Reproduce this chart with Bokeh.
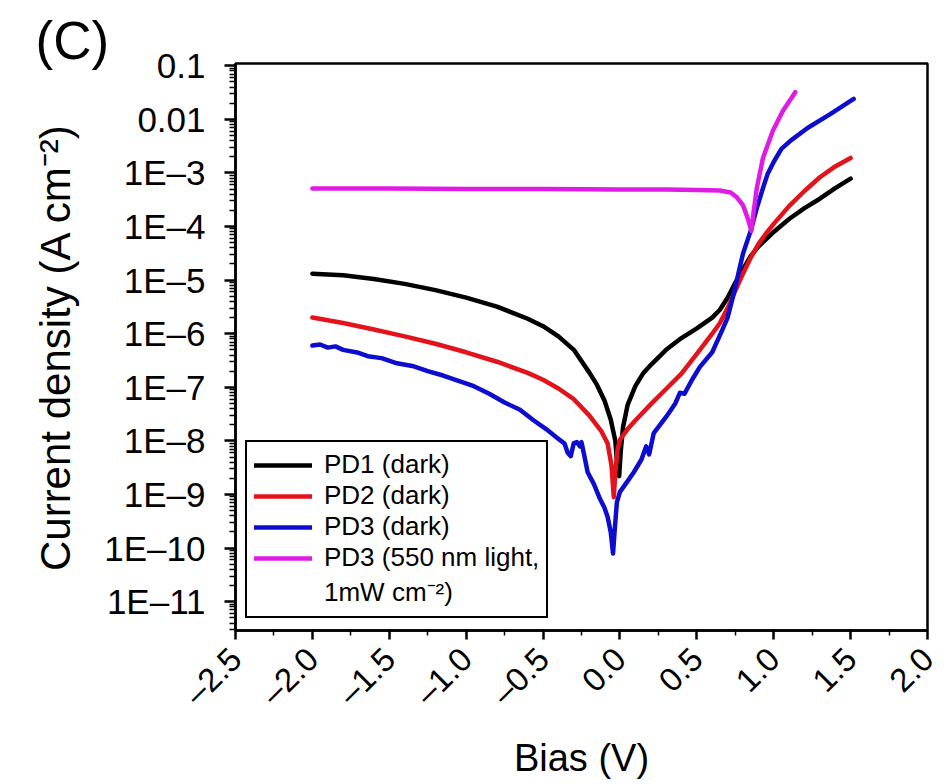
import math
from bokeh.plotting import figure
from bokeh.models import FixedTicker, Legend, LegendItem, Range1d
from bokeh.embed import file_html
from bokeh.resources import INLINE

# ---------------- data ----------------
pd1_v = [-2.00, -1.80, -1.60, -1.40, -1.20, -1.00, -0.80, -0.60, -0.50, -0.40,
         -0.30, -0.20, -0.15, -0.10, -0.06, -0.03, -0.015, -0.005, 0.005, 0.02,
         0.05, 0.10, 0.15, 0.20, 0.30, 0.40, 0.50, 0.60, 0.65, 0.70,
         0.75, 0.80, 0.85, 0.90, 1.00, 1.10, 1.20, 1.30, 1.40, 1.50]
pd1_j = [1.32e-5, 1.23e-5, 1.05e-5, 8.5e-6, 6.5e-6, 4.7e-6, 3.2e-6, 1.9e-6, 1.38e-6, 8.9e-7,
         5.0e-7, 1.9e-7, 1.12e-7, 5.6e-8, 2.5e-8, 1.0e-8, 2.8e-9, 2.2e-9, 6.3e-9, 1.8e-8,
         4.7e-8, 1.05e-7, 1.8e-7, 2.6e-7, 5.0e-7, 8.3e-7, 1.26e-6, 2.0e-6, 2.8e-6, 4.7e-6,
         8.9e-6, 1.58e-5, 2.8e-5, 4.2e-5, 7.9e-5, 1.38e-4, 2.2e-4, 3.3e-4, 5.2e-4, 7.8e-4]

pd2_v = [-2.00, -1.80, -1.60, -1.40, -1.20, -1.00, -0.80, -0.60, -0.50, -0.40,
         -0.30, -0.20, -0.12, -0.08, -0.055, -0.04, -0.03, -0.015, 0.00, 0.05,
         0.10, 0.20, 0.30, 0.40, 0.50, 0.60, 0.65, 0.70, 0.75, 0.80,
         0.85, 0.90, 0.95, 1.00, 1.10, 1.20, 1.30, 1.40, 1.50]
pd2_j = [2.0e-6, 1.58e-6, 1.2e-6, 8.9e-7, 6.5e-7, 4.5e-7, 3.0e-7, 1.86e-7, 1.38e-7, 9.5e-8,
         6.0e-8, 3.0e-8, 1.5e-8, 8.9e-9, 3.5e-9, 8.9e-10, 2.5e-9, 7.1e-9, 1.05e-8, 1.66e-8,
         2.4e-8, 4.8e-8, 9.3e-8, 1.8e-7, 4.2e-7, 1.0e-6, 1.58e-6, 3.0e-6, 6.3e-6, 1.32e-5,
         2.6e-5, 4.7e-5, 7.4e-5, 1.12e-4, 2.4e-4, 4.6e-4, 8.3e-4, 1.32e-3, 1.9e-3]

pd3_v = [-2.00, -1.95, -1.90, -1.85, -1.80, -1.70, -1.64, -1.55, -1.45, -1.35,
         -1.25, -1.15, -1.05, -0.95, -0.85, -0.75, -0.65, -0.56, -0.48, -0.41,
         -0.36, -0.34, -0.32, -0.30, -0.28, -0.26, -0.25, -0.23, -0.21, -0.17,
         -0.13, -0.10, -0.08, -0.06, -0.045, -0.035, -0.02, 0.00, 0.05, 0.09,
         0.14, 0.17, 0.19, 0.22, 0.30, 0.36, 0.39, 0.42, 0.47, 0.52,
         0.60, 0.67, 0.70, 0.74, 0.80, 0.85, 0.89, 0.93, 0.96, 1.00,
         1.05, 1.11, 1.22, 1.37, 1.52]
pd3_j = [6.0e-7, 6.3e-7, 5.5e-7, 5.8e-7, 5.0e-7, 4.4e-7, 3.8e-7, 3.5e-7, 2.8e-7, 2.5e-7,
         2.0e-7, 1.66e-7, 1.32e-7, 1.05e-7, 7.6e-8, 5.2e-8, 3.8e-8, 2.4e-8, 1.66e-8, 1.15e-8,
         8.9e-9, 6.0e-9, 5.2e-9, 9.1e-9, 9.5e-9, 7.9e-9, 9.5e-9, 5.0e-9, 2.6e-9, 1.58e-9,
         8.3e-10, 5.6e-10, 3.8e-10, 2.0e-10, 7.9e-11, 2.0e-10, 7.1e-10, 1.12e-9, 1.78e-9, 2.6e-9,
         4.5e-9, 7.9e-9, 5.6e-9, 1.4e-8, 2.8e-8, 5.0e-8, 7.9e-8, 7.6e-8, 1.4e-7, 2.4e-7,
         4.5e-7, 1.26e-6, 2.0e-6, 5.6e-6, 3.1e-5, 8.3e-5, 2.2e-4, 5.2e-4, 9.5e-4, 1.6e-3,
         2.8e-3, 4.0e-3, 6.9e-3, 1.26e-2, 2.4e-2]

pd3_light_v = [-2.00, -1.50, -1.00, -0.50, 0.00, 0.30, 0.50, 0.65, 0.72, 0.76,
               0.80, 0.83, 0.855, 0.87, 0.89, 0.93, 0.995, 1.06, 1.14]
pd3_light_j = [5.1e-4, 5.1e-4, 5.0e-4, 5.0e-4, 4.9e-4, 4.9e-4, 4.8e-4, 4.7e-4, 4.3e-4, 3.5e-4,
               2.5e-4, 1.45e-4, 8.3e-5, 1.95e-4, 5.2e-4, 1.9e-3, 6.2e-3, 1.45e-2, 3.2e-2]

series_names = ["PD1 (dark)", "PD2 (dark)", "PD3 (dark)", "PD3 (550 nm light,"]
series_name_cont = "1mW cm\u207b\u00b2)"

x_tick_values = [-2.5, -2.0, -1.5, -1.0, -0.5, 0.0, 0.5, 1.0, 1.5, 2.0]
x_tick_labels = ["\u20132.5", "\u20132.0", "\u20131.5", "\u20131.0", "\u20130.5",
                 "0.0", "0.5", "1.0", "1.5", "2.0"]
x_minor_values = [-2.25, -1.75, -1.25, -0.75, -0.25, 0.25, 0.75, 1.25, 1.75]

y_tick_values = [1e-11, 1e-10, 1e-9, 1e-8, 1e-7, 1e-6, 1e-5, 1e-4, 1e-3, 1e-2, 1e-1]
y_tick_labels = ["1E\u201311", "1E\u201310", "1E\u20139", "1E\u20138", "1E\u20137",
                 "1E\u20136", "1E\u20135", "1E\u20134", "1E\u20133", "0.01", "0.1"]
y_minor_values = [m * d for d in [1e-12] + y_tick_values for m in range(2, 10)]

panel_tag = "(C)"

FONT = "Liberation Sans"

p = figure(width=945, height=782, output_backend="svg", toolbar_location=None,
           y_axis_type="log",
           x_range=Range1d(-2.5, 2.0), y_range=Range1d(2.9e-12, 0.11),
           min_border_left=235, min_border_right=18, min_border_top=63,
           min_border_bottom=152)

p.title.text = panel_tag
p.title.text_font = FONT
p.title.text_font_size = "53px"
p.title.text_font_style = "normal"
p.title.text_color = "black"
p.title.align = "left"
p.title.offset = -200
p.title.standoff = -13

p.xgrid.visible = False
p.ygrid.visible = False
p.outline_line_color = "black"
p.outline_line_width = 2.5
p.outline_line_alpha = 1.0
p.background_fill_color = "white"
p.border_fill_color = "white"

colors = ["#000000", "#e3121b", "#0d0dcf", "#e11be6"]
xs = [pd1_v, pd2_v, pd3_v, pd3_light_v]
ys = [pd1_j, pd2_j, pd3_j, pd3_light_j]
renderers = []
for xv, yv, c in zip(xs, ys, colors):
    r = p.line(xv, yv, line_color=c, line_width=4.5, line_join="round", line_cap="round")
    renderers.append(r)
# an invisible renderer so that the second line of the last label has no swatch
blank = p.line(x=[], y=[], line_alpha=0)

# x axis
xa = p.xaxis[0]
xa.ticker = FixedTicker(ticks=x_tick_values, minor_ticks=x_minor_values)
xa.major_label_overrides = {v: l for v, l in zip(x_tick_values, x_tick_labels)}
xa.major_label_orientation = math.pi / 4
xa.axis_label = "Bias (V)"
# y axis
ya = p.yaxis[0]
ya.ticker = FixedTicker(ticks=y_tick_values, minor_ticks=y_minor_values)
ya.major_label_overrides = {v: l for v, l in zip(y_tick_values, y_tick_labels)}
ya.axis_label = "Current density (A cm\u207b\u00b2)"

for ax in (xa, ya):
    ax.axis_line_color = "black"
    ax.axis_line_width = 2.5
    ax.major_tick_line_color = "black"
    ax.major_tick_line_width = 2.5
    ax.minor_tick_line_color = "black"
    ax.minor_tick_line_width = 1.5
    ax.major_tick_in = 0
    ax.minor_tick_in = 0
    ax.major_label_text_font = FONT
    ax.axis_label_text_font = FONT
    ax.axis_label_text_font_style = "normal"
    ax.major_label_text_color = "black"
    ax.axis_label_text_color = "black"

xa.major_tick_out = 9
xa.minor_tick_out = 5
xa.major_label_text_font_size = "33px"
xa.major_label_standoff = 14
xa.axis_label_text_font_size = "38px"
xa.axis_label_standoff = 9

ya.major_tick_out = 11
ya.minor_tick_out = 6
ya.major_label_text_font_size = "35px"
ya.major_label_standoff = 19
ya.axis_label_text_font_size = "42px"
ya.axis_label_standoff = 22

items = [LegendItem(label=n, renderers=[r]) for n, r in zip(series_names, renderers)]
items.append(LegendItem(label=series_name_cont, renderers=[blank]))
legend = Legend(items=items, location=(10, 12),
                label_text_font=FONT, label_text_font_size="26px",
                label_text_color="black",
                label_height=28, glyph_height=28, glyph_width=58,
                label_standoff=12, spacing=0, padding=7, margin=0,
                border_line_color="black", border_line_width=2, border_line_alpha=1.0,
                background_fill_color="white", background_fill_alpha=1.0)
p.add_layout(legend, "center")

open("out.html", "w").write(file_html(p, INLINE))
